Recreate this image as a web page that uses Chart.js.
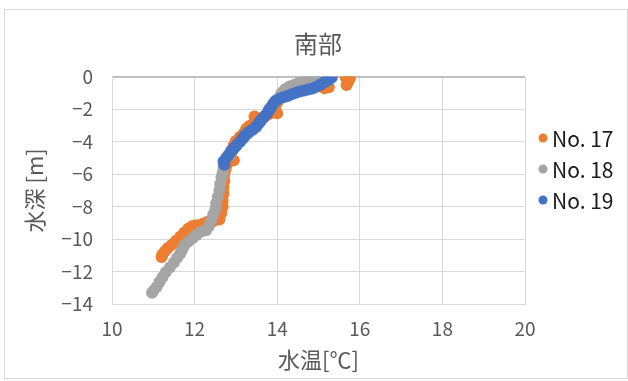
<!DOCTYPE html>
<html lang="ja">
<head>
<meta charset="utf-8">
<title>南部 水温プロファイル</title>
<script src="https://cdn.jsdelivr.net/npm/chart.js@4/dist/chart.umd.min.js"></script>
<style>
  html, body { margin: 0; padding: 0; background: #ffffff; }
  #wrap { position: relative; width: 628px; height: 381px; }
  #frame {
    position: absolute; left: 4px; top: 9px; width: 622px; height: 368px;
    border: 1px solid #d9d9d9; pointer-events: none;
  }
  canvas { position: absolute; left: 0; top: 0; }
</style>
</head>
<body>
<div id="wrap">
  <canvas id="chart" width="628" height="381"></canvas>
  <div id="frame"></div>
</div>
<script>
// Station profiles: water temperature [°C] against depth [m]
const seriesNames = ['No. 17', 'No. 18', 'No. 19'];

const temp17 = [15.74, 15.68, 15.66, 15.76, 15.72, 15.68, 15.25, 15.15, 14.60, 14.50,
                14.40, 14.30, 14.20, 14.10, 14.05, 14.00, 13.95, 13.90, 14.00, 13.80,
                13.70, 13.45, 13.55, 13.45, 13.35, 13.30, 13.25, 13.20, 13.10, 13.00,
                12.95, 12.90, 12.85, 12.95, 12.80, 12.78, 12.75, 12.72, 12.72, 12.70,
                12.70, 12.68, 12.68, 12.65, 12.60, 12.45, 12.30, 12.20, 12.05, 11.95,
                11.85, 11.75, 11.65, 11.55, 11.45, 11.35, 11.28, 11.22, 11.20];
const depth17 = [-0.02, 0.00, -0.05, -0.10, -0.30, -0.50, -0.65, -0.70, -0.35, -0.45,
                 -0.55, -0.70, -0.90, -1.10, -1.35, -1.60, -1.85, -2.10, -2.25, -2.30,
                 -2.45, -2.45, -2.60, -2.80, -3.00, -3.10, -3.20, -3.45, -3.70, -3.95,
                 -4.20, -4.50, -4.80, -5.15, -5.10, -5.40, -5.70, -6.00, -6.40, -6.80,
                 -7.20, -7.60, -8.00, -8.40, -8.80, -8.90, -8.95, -9.05, -9.15, -9.20,
                 -9.35, -9.60, -9.85, -10.10, -10.35, -10.55, -10.75, -10.95, -11.10];

const temp18 = [15.10, 15.00, 14.90, 14.80, 14.70, 14.60, 14.50, 14.40, 14.30, 14.20,
                14.15, 14.10, 14.00, 13.90, 13.80, 13.70, 13.60, 13.50, 13.40, 13.30,
                13.20, 13.10, 13.00, 12.92, 12.85, 12.78, 12.72, 12.70, 12.68, 12.65,
                12.62, 12.60, 12.56, 12.52, 12.50, 12.45, 12.40, 12.35, 12.28, 12.15,
                12.05, 11.95, 11.85, 11.75, 11.70, 11.65, 11.58, 11.50, 11.40, 11.30,
                11.22, 11.15, 11.08, 11.00, 10.97];
const depth18 = [-0.02, -0.05, -0.10, -0.15, -0.20, -0.30, -0.40, -0.50, -0.60, -0.75,
                 -0.90, -1.05, -1.40, -1.70, -2.00, -2.40, -2.75, -3.10, -3.30, -3.50,
                 -3.75, -4.00, -4.30, -4.55, -4.80, -5.00, -5.30, -5.60, -5.90, -6.20,
                 -6.60, -7.00, -7.40, -7.80, -8.20, -8.50, -8.85, -9.20, -9.45, -9.55,
                 -9.75, -9.95, -10.15, -10.40, -10.65, -10.90, -11.15, -11.45, -11.75, -12.05,
                 -12.35, -12.65, -12.95, -13.20, -13.30];

const temp19 = [15.32, 15.25, 15.15, 15.05, 14.95, 14.85, 14.75, 14.65, 14.55, 14.45,
                14.35, 14.25, 14.15, 14.05, 13.95, 13.90, 13.85, 13.80, 13.75, 13.68,
                13.60, 13.55, 13.48, 13.40, 13.30, 13.22, 13.16, 13.10, 13.02, 12.95,
                12.88, 12.82, 12.76, 12.70, 12.72];
const depth19 = [-0.05, -0.18, -0.32, -0.48, -0.62, -0.72, -0.78, -0.84, -0.90, -0.98,
                 -1.08, -1.18, -1.26, -1.36, -1.50, -1.68, -1.88, -2.08, -2.28, -2.48,
                 -2.68, -2.88, -3.08, -3.25, -3.42, -3.60, -3.80, -4.00, -4.20, -4.40,
                 -4.60, -4.82, -5.02, -5.22, -5.42];

const xTicks = [10, 12, 14, 16, 18, 20];
const yTicks = [0, -2, -4, -6, -8, -10, -12, -14];

const palette = ['#ED7D31', '#A5A5A5', '#4472C4'];
const FONT = '"Noto Sans CJK JP", "Noto Sans", sans-serif';
const TXT = '#595959';

const toPoints = (xs, ys) => xs.map((x, i) => ({ x: x, y: ys[i] }));
const minus = v => String(v).replace('-', '\u2212');

// Legend drawn to the right of the plot, one marker + label per station
const sideLegend = {
  id: 'sideLegend',
  afterDraw(chart) {
    const ctx = chart.ctx;
    ctx.save();
    ctx.font = '21px ' + FONT;
    ctx.textBaseline = 'middle';
    ctx.textAlign = 'left';
    chart.data.datasets.forEach((ds, i) => {
      const y = 138 + i * 31;
      ctx.fillStyle = ds.backgroundColor;
      ctx.beginPath();
      ctx.arc(543, y, 4.5, 0, Math.PI * 2);
      ctx.fill();
      ctx.fillStyle = '#1a1a1a';
      ctx.fillText(ds.label, 552, y + 1);
    });
    ctx.restore();
  }
};

new Chart(document.getElementById('chart'), {
  type: 'scatter',
  data: {
    datasets: [
      { label: seriesNames[0], data: toPoints(temp17, depth17), backgroundColor: palette[0], order: 2 },
      { label: seriesNames[1], data: toPoints(temp18, depth18), backgroundColor: palette[1], order: 1 },
      { label: seriesNames[2], data: toPoints(temp19, depth19), backgroundColor: palette[2], order: 0 }
    ].map(d => Object.assign(d, { pointRadius: 6, pointBorderWidth: 0, borderColor: d.backgroundColor, pointHoverRadius: 6 }))
  },
  options: {
    responsive: false,
    animation: false,
    events: [],
    layout: { padding: { left: 8, right: 0, top: 19, bottom: 4 } },
    plugins: {
      legend: { display: false },
      tooltip: { enabled: false },
      title: {
        display: true,
        text: '南部',
        color: TXT,
        font: { family: FONT, size: 24, weight: 'normal' },
        padding: { top: 10, bottom: 19 }
      }
    },
    scales: {
      x: {
        type: 'linear',
        min: 10, max: 20,
        afterBuildTicks: s => { s.ticks = xTicks.map(v => ({ value: v })); },
        afterFit: s => { s.height = 73; },
        grid: { color: '#d9d9d9', lineWidth: 1, drawTicks: false },
        border: { display: true, color: '#d9d9d9' },
        ticks: { color: TXT, padding: 13, font: { family: FONT, size: 19 }, callback: v => minus(v) },
        title: {
          display: true, text: '水温[℃]', color: TXT,
          font: { family: FONT, size: 22 }, padding: { top: 0, bottom: 4 }
        }
      },
      y: {
        type: 'linear',
        min: -14, max: 0,
        afterBuildTicks: s => { s.ticks = yTicks.map(v => ({ value: v })); },
        afterFit: s => { s.width = 104; },
        grid: {
          color: c => (c.tick && c.tick.value === 0) ? '#bfbfbf' : '#d9d9d9',
          lineWidth: c => (c.tick && c.tick.value === 0) ? 2 : 1,
          drawTicks: false
        },
        border: { display: true, color: '#d9d9d9' },
        ticks: { color: TXT, padding: 19, font: { family: FONT, size: 19 }, callback: v => minus(v) },
        title: {
          display: true, text: '水深 [m]', color: TXT,
          font: { family: FONT, size: 22 }, padding: { top: 13, bottom: 0 }
        }
      },
      // empty right-hand box that reserves room for the legend column
      side: {
        type: 'linear',
        position: 'right',
        min: -14, max: 0,
        afterFit: s => { s.width = 103; },
        grid: { display: false, drawTicks: false },
        border: { display: false },
        ticks: { display: false },
        title: { display: false }
      }
    }
  },
  plugins: [sideLegend]
});
</script>
</body>
</html>
